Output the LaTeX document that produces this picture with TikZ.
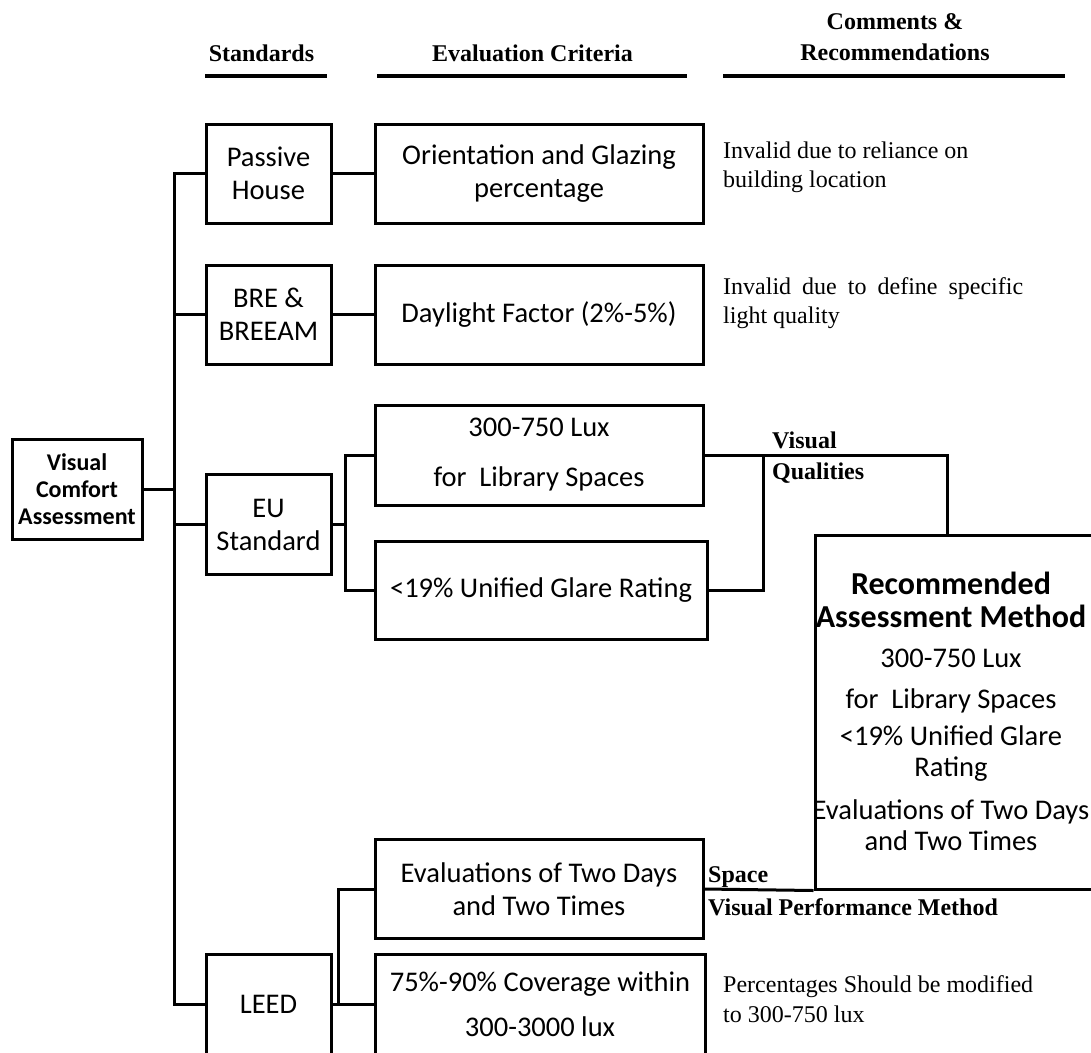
\documentclass[tikz,border=0pt]{standalone}
\usepackage{fontspec}
\setmainfont{Liberation Serif}
\newfontfamily\calibri{Carlito}
\begin{document}
\begin{tikzpicture}[x=1pt,y=-1pt,
  link/.style={line width=3pt},
  stdbox/.style={draw, line width=3pt, inner sep=0pt, minimum width=125pt,
    minimum height=99pt, align=center, font=\calibri\fontsize{28.5}{33}\selectfont},
  critbox/.style={stdbox, minimum width=328pt},
  head/.style={inner sep=0pt, align=center, font=\bfseries\fontsize{24}{31}\selectfont},
  headrule/.style={line width=4.5pt},
  comment/.style={anchor=west, align=left, inner sep=0pt, font=\fontsize{24}{29.5}\selectfont},
  tag/.style={anchor=west, align=left, inner sep=0pt, font=\bfseries\fontsize{24}{31}\selectfont},
]
\useasboundingbox (0,0) rectangle (1091,1052);
\fill[white] (0,0) rectangle (1091,1052);
\clip (0,0) rectangle (1091,1052);

% column headings
\node[head] (hstd)  at (261.5,53) {Standards};
\node[head] (hcrit) at (532.5,53) {Evaluation Criteria};
\node[head] (hcom)  at (895,37.5) {Comments \&\\Recommendations};
\draw[headrule] (205,76) -- (327,76);
\draw[headrule] (377,76) -- (687,76);
\draw[headrule] (723,76) -- (1065,76);

% root
\node[stdbox, minimum width=130pt, minimum height=100pt,
      font=\calibri\bfseries\fontsize{24}{27}\selectfont] (root) at (77,489)
      {Visual\\Comfort\\Assessment};

% standards
\node[stdbox] (passive) at (268.5,173.5) {Passive\\House};
\node[stdbox] (bre)     at (268.5,314.5) {BRE \&\\BREEAM};
\node[stdbox, minimum height=100pt] (eu)   at (268.5,524.5) {EU\\Standard};
\node[stdbox, minimum height=100pt] (leed) at (268.5,1004) {LEED};

% evaluation criteria
\node[critbox] (orient)   at (539,173.5) {Orientation and Glazing\\percentage};
\node[critbox] (daylight) at (539,314.5) {Daylight Factor (2\%-5\%)};
\node[critbox, minimum height=100pt] (lux) at (539,455)
      {300-750 Lux\\[17pt]for\ \ Library Spaces};
\node[critbox, minimum width=332pt, minimum height=98pt] (ugr) at (541,590)
      {<19\% Unified Glare Rating};
\node[critbox] (twodays) at (539,889) {Evaluations of Two Days\\and Two Times};
\node[critbox, minimum width=330pt, minimum height=100pt] (cover) at (540,1004)
      {75\%-90\% Coverage within\\[12pt]300-3000 lux};

% recommended method
\node[draw, line width=3pt, inner sep=0pt, minimum width=280pt, minimum height=354pt]
      (rec) at (955,712) {};
\node[inner sep=0pt, anchor=north] (rectext) at (951,572) {%
  \begin{minipage}{330pt}\centering\setlength{\parskip}{0pt}\calibri
  \fontsize{32}{33}\selectfont\bfseries Recommended\\Assessment Method\par
  \fontsize{28.5}{31}\selectfont\mdseries
  \vspace{9pt}300-750 Lux\par
  \vspace{10pt}for\ \ Library Spaces\par
  \vspace{6pt}<19\% Unified Glare\\Rating\par
  \vspace{12pt}Evaluations of Two Days\\and Two Times\par
  \end{minipage}};

% comments
\node[comment] (c1) at (723,167.5) {Invalid due to reliance on\\building location};
\node[comment] (c2) at (723,303) {\makebox[300pt][s]{Invalid due to define specific}\\light quality};
\node[comment] (c3) at (723,999) {Percentages Should be modified\\to 300-750 lux};

% connector labels
\node[tag] (vq)    at (772,457.5) {Visual\\Qualities};
\node[tag] (space) at (708,877) {Space};
\node[tag] (vpm)   at (708,907) {Visual Performance Method};

% spines
\coordinate (trunk) at (174,0);
\coordinate (euspine) at (345,0);
\coordinate (leedspine) at (338,0);
\coordinate (vqleft) at (763,0);
\coordinate (vqright) at (947,0);

% connectors
\draw[link] (passive.west) -- (passive.west -| trunk) -- (leed.west -| trunk) -- (leed.west);
\draw[link] (root.east) -- (root.east -| trunk);
\draw[link] (bre.west) -- (bre.west -| trunk);
\draw[link] (eu.west) -- (eu.west -| trunk);
\draw[link] (passive.east) -- (orient.west);
\draw[link] (bre.east) -- (daylight.west);
\draw[link] (eu.east) -- (eu.east -| euspine);
\draw[link] (lux.west) -- (lux.west -| euspine) -- (ugr.west -| euspine) -- (ugr.west);
\draw[link] (leed.east) -- (leed.east -| leedspine);
\draw[link] (twodays.west) -- (twodays.west -| leedspine) -- (cover.west -| leedspine) -- (cover.west);
\draw[link] (lux.east) -- (lux.east -| vqright) -- (rec.north -| vqright);
\draw[link] (ugr.east) -- (ugr.east -| vqleft) -- (lux.east -| vqleft);
\draw[link] (twodays.east) -- (rec.south west);
\end{tikzpicture}
\end{document}
